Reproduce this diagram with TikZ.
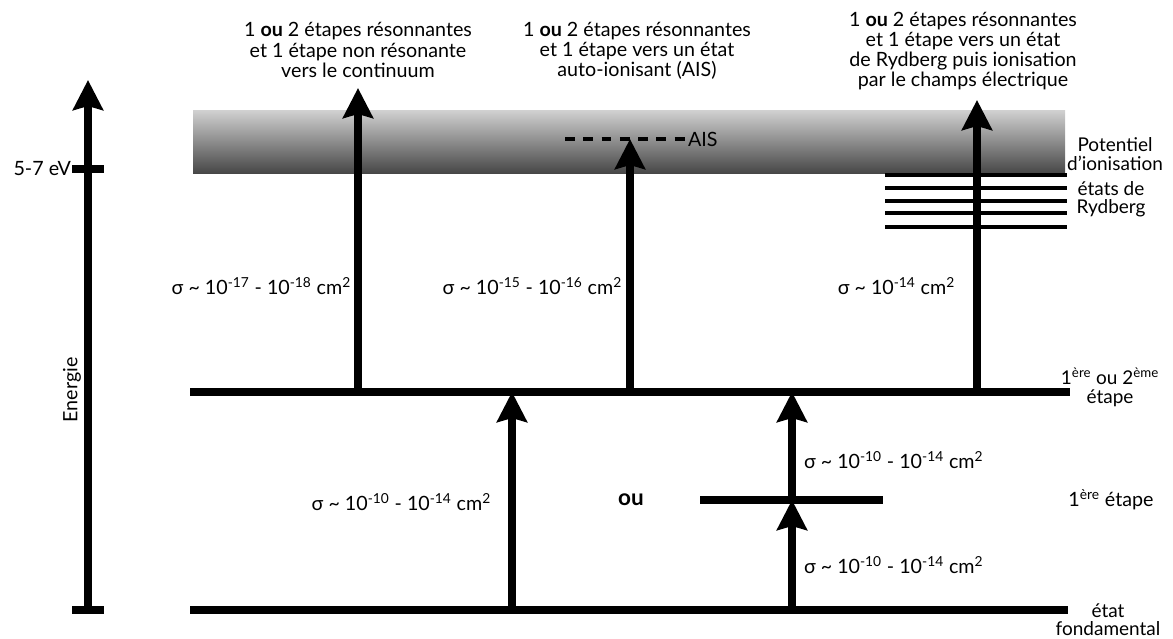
\documentclass[tikz,border=0pt]{standalone}
\usepackage{fontspec}
\setmainfont{Lato}
\usetikzlibrary{arrows.meta}

\begin{document}
\begin{tikzpicture}[x=0.025cm,y=-0.025cm,inner sep=0pt,outer sep=0pt,
level/.style={line width=5pt},
rydline/.style={line width=2.8pt},
trans/.style={line width=5pt,-{Stealth[length=0.75cm,width=0.75cm,inset=0.1cm]}},
lbl/.style={font=\fontsize{14}{14.4}\selectfont,align=center},
sidelbl/.style={font=\fontsize{13.5}{13}\selectfont,align=center}]

\useasboundingbox (0,0) rectangle (1173,639);

% continuum above the ionisation potential
\shade[top color=black!18,bottom color=black!72] (193,110) rectangle (1065,173);

% energy axis
\coordinate (ebot) at (88,610);
\coordinate (etop) at (88,80);
\draw[trans] (ebot) -- (etop);
\draw[level] (72,610) -- (104,610);
\draw[level] (72,169) -- (104,169);
\node (ev) [lbl,anchor=east] at (71,169) {5-7 eV};
\node (energie) [lbl,rotate=90] at (72,390) {Energie};

% levels
\coordinate (fond) at (190,610);
\coordinate (etape) at (190,392);
\coordinate (inter) at (700,500);
\draw[level] (fond) -- ++(878,0) coordinate (fondR);
\draw[level] (etape) -- ++(880,0) coordinate (etapeR);
\draw[level] (inter) -- ++(183,0) coordinate (interR);
\foreach \y [count=\i] in {175,188,201,213,227}
  \draw[rydline] (885,\y) -- (1067,\y) coordinate (ryd\i);
\draw[line width=2.5pt,dash pattern=on 7pt off 6pt] (565,139) -- (688,139) coordinate (ais);

% transitions
\coordinate (c1) at (512,0);
\coordinate (c2) at (792,0);
\coordinate (c3) at (358,88);
\coordinate (c4) at (630,139);
\coordinate (c5) at (977,100);
\draw[trans] (c1 |- fond) -- (c1 |- etape);
\draw[trans] (c2 |- fond) -- (c2 |- inter);
\draw[trans] (c2 |- inter) -- (c2 |- etape);
\draw[trans] (c3 |- etape) -- (c3);
\draw[trans] (c4 |- etape) -- (c4);
\draw[trans] (c5 |- etape) -- (c5);

% cross sections
\node (s1) [lbl,anchor=east] at (351,286) {σ \textasciitilde{} 10\textsuperscript{-17} - 10\textsuperscript{-18} cm\textsuperscript{2}};
\node (s2) [lbl,anchor=east] at (622,286) {σ \textasciitilde{} 10\textsuperscript{-15} - 10\textsuperscript{-16} cm\textsuperscript{2}};
\node (s3) [lbl,anchor=east] at (955,286) {σ \textasciitilde{} 10\textsuperscript{-14} cm\textsuperscript{2}};
\node (s4) [lbl,anchor=east] at (491,502) {σ \textasciitilde{} 10\textsuperscript{-10} - 10\textsuperscript{-14} cm\textsuperscript{2}};
\node (s5) [lbl,anchor=west] at (804,460) {σ \textasciitilde{} 10\textsuperscript{-10} - 10\textsuperscript{-14} cm\textsuperscript{2}};
\node (s6) [lbl,anchor=west] at (804,565) {σ \textasciitilde{} 10\textsuperscript{-10} - 10\textsuperscript{-14} cm\textsuperscript{2}};
\node (ou) [lbl,font=\fontsize{16}{16}\selectfont\bfseries] at (631,500) {ou};
\node (aislbl) [lbl,anchor=west] at (ais) {AIS};

% schemes
\node (sch1) [lbl] at (358,50) {1 \textbf{ou} 2 étapes résonnantes\\et 1 étape non résonante\\vers le continuum};
\node (sch2) [lbl] at (637,51) {1 \textbf{ou} 2 étapes résonnantes\\et 1 étape vers un état\\auto-ionisant (AIS)};
\node (sch3) [lbl] at (963,51) {1 \textbf{ou} 2 étapes résonnantes\\et 1 étape vers un état\\de Rydberg puis ionisation\\par le champs électrique};

% level names
\node (pi) [sidelbl] at (1115,154) {Potentiel\\d’ionisation};
\node (ryd) [sidelbl] at (1111,199) {états de\\Rydberg};
\node (et12) [sidelbl] at (1110,387) {1\textsuperscript{ère} ou 2\textsuperscript{ème}\\étape};
\node (et1) [lbl] at (1111,500) {1\textsuperscript{ère} étape};
\node (fondlbl) [sidelbl] at (1108,620) {état\\fondamental};
\end{tikzpicture}
\end{document}
